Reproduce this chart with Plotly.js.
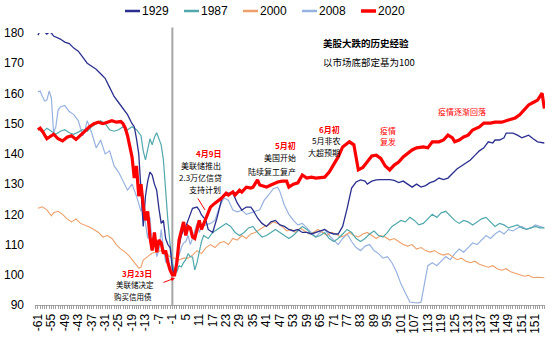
<!DOCTYPE html>
<html><head><meta charset="utf-8">
<script src="https://cdn.plot.ly/plotly-3.0.1.min.js"></script>
<style>html,body{margin:0;padding:0;background:#fff}#chart{width:554px;height:339px}</style>
</head><body><div id="chart"></div>
<script>
// x-axis category labels (as printed) and the day each label sits on
const tickLabels = ['-61','-55','-49','-43','-37','-31','-25','-19','-13','-7','-1','5','11','17','23','29','35','41','47','53','59','65','71','77','83','89','95','101','107','113','119','125','131','137','143','149','151','151'];
const tickDays = [-61,-55,-49,-43,-37,-31,-25,-19,-13,-7,-1,5,11,17,23,29,35,41,47,53,59,65,71,77,83,89,95,101,107,113,119,125,131,137,143,149,155,161];

// 2020
const days2020 = [-61,-60,-59,-58,-57,-56,-54,-52,-50,-48,-46,-44,-42,-40,-38,-36,-34,-32,-30,-28,-26,-24,-23,-22,-21,-20,-19,-18,-17,-16,-15,-14,-13,-12,-11,-10,-9,-8,-7,-6,-5,-4,-3,-2,-1,0,1,2,3,4,5,6,7,8,9,10,11,12,13,14,16,18,20,21,23,24,26,27,29,30,32,34,35,37,38,41,43,46,48,50,51,53,55,57,59,61,63,67,69,72,73,75,77,78,80,81,82,84,86,88,90,92,94,96,98,100,102,104,106,108,111,113,115,118,120,122,124,125,127,129,131,133,136,138,141,143,146,149,152,154,156,158,160,162,164,165];
const val2020 = [148,148.5,147.5,146,145,145.5,146.5,145,144.3,145.5,146,144.8,146,147.5,149,150,150.5,150,150.5,151,150.5,150.7,150,148.5,146,142,139,132,136,126,130,123,118,121,112.5,108,114,107.5,111.5,110.5,107,108,104,101.5,100,100,104,111.5,114.8,117.5,113,116,115.5,112.5,112,115,118,115,117,118.5,122.4,123.7,124.7,125.4,127,126.4,127.4,126.4,128,127.4,129,128.7,129,131.4,129.7,129,129.7,130.7,131,131,129,130,130.4,133,132,132.3,132,132.3,134,138,139,142.3,143.6,144,143,138,134.7,135.5,137.5,139.3,139.6,138.5,136,134.7,136.3,137.3,139,140.3,141.3,142,142.3,142,144,144,144.6,146.2,145.3,144,144.6,145.6,146.2,147.9,148.9,150.2,150.2,150.5,150.5,151.2,151.9,152.9,154.5,156.2,157,157.8,160.1,155];

// 1929
const days1929 = [-61,-60,-58,-57,-56,-55,-54,-53,-51,-49,-47,-45,-43,-41,-39,-37,-35,-33,-31,-29,-27,-25,-23,-21,-19,-18,-17,-16,-15,-14,-13,-12,-11,-10,-9,-8,-7,-6,-5,-4,-3,-2,-1,0,1,2,3,4,5,6,8,10,11,12,14,15,17,19,21,22,23,26,27,28,30,32,34,35,37,39,41,43,45,47,49,51,53,55,57,59,61,63,65,67,69,71,73,75,77,79,81,83,85,86,88,90,92,94,96,98,100,102,104,106,108,110,112,114,116,118,120,122,124,126,128,130,132,134,136,138,140,142,143,145,147,148,151,153,155,156,158,160,162,165];
const val1929 = [179.3,180.7,180.3,179.6,180.3,180,179,178.7,178,177,176.5,175,174,172,170,169,168,166.5,165,162,159,157,155,153,150,149,145,140,128,116,126,131,134,133,130,128,122,117,118,112,110,109,102,100,106,110,113,115,116,118,122,122.4,121.4,119.8,118,115,114,119,125,126.4,127,127,125.4,123.7,121.4,122.4,122.4,121.4,118.8,117,116,117.5,118,116.5,116,115,114.5,115,114,114,113.5,114,114.5,115,114,113.5,113.5,116,122,128.7,130.7,131.4,131,130,131,131.4,131.5,131.5,131.5,131.2,130.5,131,130,129,130,129,129.5,130.5,131,132,131.5,132,133.5,135,136,137,138,139.5,141,142,144,143.6,144.6,144.6,145.3,146.9,146.9,146.2,145.3,145.6,146.2,145,144,143.6];

// 1987
const days1987 = [-61,-59,-57,-55,-53,-51,-49,-47,-45,-43,-41,-39,-37,-35,-33,-31,-29,-27,-25,-23,-21,-19,-17,-15,-14,-13,-12,-11,-10,-9,-8,-7,-6,-5,-4,-3,-2,-1,0,1,2,3,4,5,6,7,8,9,10,11,12,13,15,17,19,21,23,25,27,29,31,33,35,37,39,41,43,45,47,49,51,53,55,57,59,61,63,65,67,69,71,73,75,77,79,81,83,85,87,89,91,93,95,97,99,101,103,105,107,109,111,113,115,117,119,121,123,125,127,129,131,133,135,137,139,141,143,145,147,149,151,153,155,157,159,161,163,165];
const val1987 = [148.6,147,148.5,147.5,146.5,147.5,148,147,146.5,147.2,148,147.5,149,150,151,150,148,147.5,148,149,148,149,148,146,141,138,141,145,143,145.5,147,145,143,138,127,118,110,104,100.5,101,103,102.6,104,105,107,106,105.9,101.6,104,108,111,113,112,114,115,116,117,116,114,113,114,115.5,116,114,112.5,113,114,115,114,113,112,113,114.5,116,115,113.5,112.5,113,114,112,111,112,113.5,115,114,112,111,112,113.5,114.5,113,112.5,114,116,117,118,117.5,119,118,116.5,117,118.5,120,119,120.5,121,119.5,118,117,118,117.5,116.5,117.5,118.5,119,117.5,116,117,116.5,115.5,116,116.5,115.5,115,115.5,116,115.5,115.5];

// 2000
const days2000 = [-61,-59,-57,-55,-54,-52,-50,-48,-46,-44,-42,-40,-38,-36,-34,-32,-30,-28,-26,-24,-22,-20,-18,-16,-15,-14,-12,-10,-8,-6,-4,-2,0,2,4,6,8,10,12,14,16,18,20,22,24,26,28,30,32,34,36,38,40,42,44,46,48,50,52,54,56,58,60,62,64,66,68,70,72,74,76,78,80,82,84,86,88,90,92,94,96,98,100,102,104,106,108,110,112,114,116,118,120,122,124,126,128,130,132,134,136,138,140,142,144,146,148,150,152,154,156,158,160,162,165];
const val2000 = [122,122.5,121.5,119.5,120.5,121,120,118.5,117.5,118.5,117,116.5,115.8,115,114,112.5,113,112,110,108.5,107.5,106,104,102.2,102.5,104.9,106,107.2,107.5,108,107.2,106,105.5,104.9,105.5,105.5,106.5,108,107,109,110,109,110.5,111,110,112,111.5,113,112,113.5,114,115,116,116.5,117.5,117,116,114.5,115,114,115.5,114.5,113.5,114,115,114,113,114,113.5,112.5,113,114,113,112.5,113.5,114,113,112,113,112.5,111.5,112,111,110,109.5,110,108.5,109,108,107.5,108,107,106.5,107,106,105,105.5,104.5,104,104.5,103.5,103,102.5,103,102,101.5,102,101,100.5,100,99.5,99.8,99,99.2,99];

// 2008
const days2008 = [-61,-60,-59,-58,-57,-56,-55,-54,-53,-52,-51,-49,-47,-45,-43,-41,-40,-39,-37,-35,-33,-31,-29,-27,-25,-23,-21,-19,-17,-15,-14,-13,-12,-11,-10,-9,-8,-7,-6,-5,-4,-3,-2,-1,0,1,2,3,4,5,6,7,8,9,10,11,12,14,16,18,20,22,24,26,28,30,32,34,36,38,40,42,44,46,47,49,51,53,55,57,59,61,63,65,67,69,71,73,75,77,79,81,83,85,87,89,91,93,95,97,99,101,103,105,107,109,110,111,112,113,115,117,119,121,123,125,127,129,131,133,135,137,139,141,143,145,147,149,151,153,155,157,159,161,163,165];
const val2008 = [160.5,160.8,159,157.5,157.8,160.8,158.5,147,149,154.5,155.5,156,154,153,151,146,148,151,147,142,144.6,140,141,136,134,131,128,130,126,121,125,117,112,119,110,114,106,108,115,109,104,107,102,100,101,104,107,109,110.5,111,113,110,112,115,117,114,116,116.5,117,118,122.4,125.4,124.7,121.4,120.8,121.4,120,120.5,121,121.5,124.7,126.4,128.5,129,127.5,123,120,118,116.5,117,115.5,114,112.5,114,115,113,111.5,110,112,113.5,111,109,108,109.5,110,108,107,105.5,106,104,101,97,94,91,90.8,90.7,91,95,100,103,104,103,104.5,106,105,107,108.5,107.5,109,110.5,110,111.5,113,112,113.5,114.5,113.5,115,114.5,115.5,116,115,115.5,116.5,116,115.5];

// legend order and styles
const legendNames = ['1929','1987','2000','2008','2020'];
const styles = {
  '1929':{color:'#2B2F8F', w:1.3},
  '1987':{color:'#52A8AC', w:1.2},
  '2000':{color:'#EDA06A', w:1.1},
  '2008':{color:'#98B2E0', w:1.2},
  '2020':{color:'#FF0000', w:3.2}
};
const data = {'1929':[days1929,val1929],'1987':[days1987,val1987],'2000':[days2000,val2000],'2008':[days2008,val2008],'2020':[days2020,val2020]};
const drawOrder = ['2008','2000','1987','1929','2020'];
const traces = drawOrder.map(n => ({
  type:'scatter', mode:'lines', name:n, x:data[n][0], y:data[n][1],
  line:{color:styles[n].color, width:styles[n].w}, hoverinfo:'skip', showlegend:false
}));

// pixel -> paper helpers (plot area 35..545 x, 33..305 y)
const PX = p => (p-35)/510, PY = p => (305-p)/272;

const RED = '#FF0000';
const CJK = 'Noto Sans CJK SC, sans-serif';
const notes = [
  {t:'美股大跌的历史经验', x:322, y:43, c:'#000', b:true, a:'left', s:9.5},
  {t:'以市场底部定基为100', x:322, y:62, c:'#000', b:false, a:'left', s:9.5},
  {t:'4月9日', x:222, y:153, c:RED, b:true, a:'right', s:8},
  {t:'美联储推出', x:222, y:165, c:'#000', b:false, a:'right', s:8},
  {t:'2.3万亿信贷', x:223, y:177.5, c:'#000', b:false, a:'right', s:8},
  {t:'支持计划', x:222, y:189.5, c:'#000', b:false, a:'right', s:8},
  {t:'5月初', x:297, y:145, c:RED, b:true, a:'right', s:8},
  {t:'美国开始', x:297, y:157, c:'#000', b:false, a:'right', s:8},
  {t:'陆续复工复产', x:297, y:171, c:'#000', b:false, a:'right', s:8},
  {t:'6月初', x:341, y:129, c:RED, b:true, a:'right', s:8},
  {t:'5月非农', x:341, y:140.5, c:'#000', b:false, a:'right', s:8},
  {t:'大超预期', x:341, y:152.5, c:'#000', b:false, a:'right', s:8},
  {t:'疫情', x:397, y:130, c:RED, b:false, a:'right', s:8},
  {t:'复发', x:397, y:141.5, c:RED, b:false, a:'right', s:8},
  {t:'疫情逐渐回落', x:462, y:111, c:RED, b:false, a:'center', s:8},
  {t:'3月23日', x:153, y:273, c:RED, b:true, a:'right', s:8},
  {t:'美联储决定', x:155, y:284.5, c:'#000', b:false, a:'right', s:7.5},
  {t:'购买信用债', x:153, y:296.5, c:'#000', b:false, a:'right', s:7.5}
];
const annotations = notes.map(n => ({
  xref:'paper', yref:'paper', x:PX(n.x), y:PY(n.y), xanchor:n.a, yanchor:'middle',
  text: n.b ? '<b>'+n.t+'</b>' : n.t, showarrow:false, borderpad:0,
  font:{family:CJK, size:n.s, color:n.c}
}));
annotations.push({xref:'paper', yref:'paper', x:PX(175), y:PY(278), ax:-13, ay:5, text:'',
  showarrow:true, arrowhead:2, arrowsize:0.8, arrowwidth:1, arrowcolor:RED});
annotations.push({xref:'paper', yref:'paper', x:PX(205), y:PY(210), ax:-8, ay:-13, text:'',
  showarrow:true, arrowhead:0, arrowwidth:1, arrowcolor:RED});

// legend drawn across the top
const shapes = [{type:'line', xref:'x', yref:'paper', x0:-1, x1:-1, y0:0, y1:1.02,
    line:{color:'#A6A6A6', width:2}, layer:'below'}];
legendNames.forEach((n,i) => {
  const x0 = 125 + 59*i;
  shapes.push({type:'line', xref:'paper', yref:'paper', x0:PX(x0), x1:PX(x0+15), y0:PY(11), y1:PY(11),
    line:{color:styles[n].color, width: n==='2020' ? 3.5 : 2.5}});
  annotations.push({xref:'paper', yref:'paper', x:PX(x0+16), y:PY(11), xanchor:'left', yanchor:'middle',
    text:n, showarrow:false, borderpad:0, font:{family:'Liberation Sans, Arial, sans-serif', size:12, color:'#000'}});
});

const layout = {
  width:554, height:339,
  margin:{l:35, r:9, t:33, b:34},
  paper_bgcolor:'#fff', plot_bgcolor:'#fff',
  font:{family:'Liberation Sans, Arial, sans-serif', color:'#000'},
  showlegend:false,
  xaxis:{range:[-62.3,165.3], tickmode:'array', tickvals:tickDays, ticktext:tickLabels,
    tickangle:-90, tickfont:{size:12, color:'#000'}, showgrid:false, zeroline:false,
    showline:true, linecolor:'#A0A0A0', linewidth:1, ticks:'outside', ticklen:3, tickcolor:'#A0A0A0',
    minor:{ticks:'outside', ticklen:3, tickcolor:'#A0A0A0', dtick:1, tick0:0, showgrid:false}},
  yaxis:{range:[90,180], dtick:10, tick0:90, tickfont:{size:12, color:'#000'}, showgrid:false,
    zeroline:false, showline:false, ticks:'', ticklabelstandoff:10},
  shapes: shapes,
  annotations: annotations
};
Plotly.newPlot('chart', traces, layout, {displayModeBar:false, staticPlot:true});
</script>
</body></html>
